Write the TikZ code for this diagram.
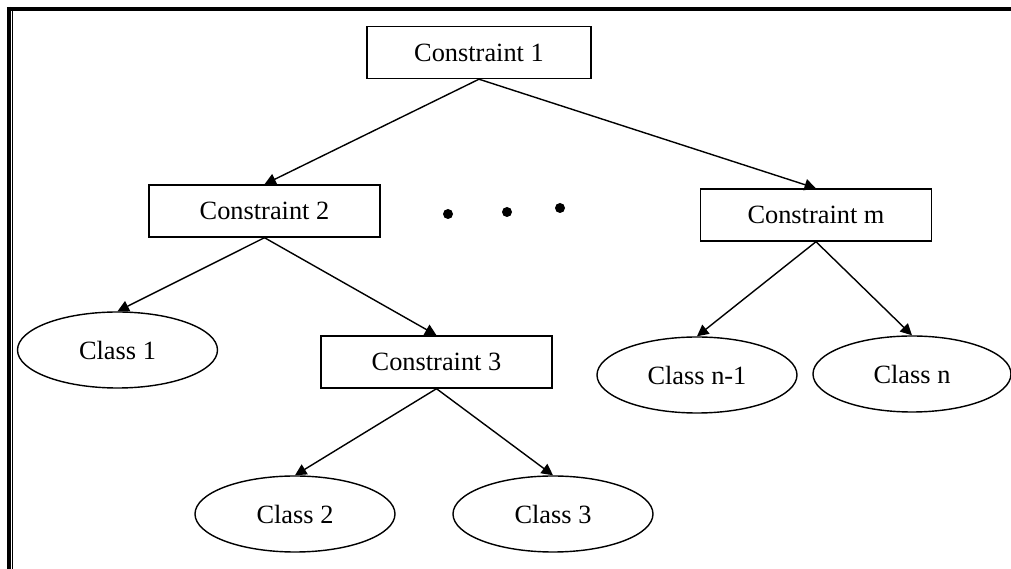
\documentclass[tikz,border=0pt]{standalone}
\usepackage{fontspec}
\setmainfont{Liberation Serif}
\usepackage{tikz}
\usetikzlibrary{shapes.geometric, arrows.meta}
\tikzstyle{arrow} = [line width=0.8pt,->,>={Stealth[length=6.5pt,width=6.5pt,inset=0pt]}]
\tikzstyle{constraintbox} = [rectangle, draw, line width=0.8pt, minimum width=4.62cm, minimum height=1.04cm, inner sep=0pt, font=\fontsize{15}{18}\selectfont]
\tikzstyle{classnode} = [ellipse, draw, line width=0.8pt, minimum width=4cm, minimum height=1.52cm, inner sep=0pt, font=\fontsize{15}{18}\selectfont]

\begin{document}
\begin{tikzpicture}
    \useasboundingbox (0,0) rectangle (20.22,-11.38);
    % Frame
    \draw[line width=2.3pt] (0.14,-0.18) -- (20.22,-0.18);
    \draw[line width=2.3pt] (0.18,-0.14) -- (0.18,-11.38);
    \draw[line width=0.5pt] (0.25,-0.22) -- (0.25,-11.38);

    % Nodes
    \node[constraintbox, minimum width=4.48cm] (c1) at (9.58,-1.05) {Constraint 1};
    \node[constraintbox] (c2) at (5.29,-4.22) {Constraint 2};
    \node[constraintbox] (cm) at (16.32,-4.30) {Constraint m};
    \node[constraintbox] (c3) at (8.73,-7.24) {Constraint 3};
    \node[classnode] (k1) at (2.35,-7.00) {Class 1};
    \node[classnode] (kn1) at (13.94,-7.50) {Class n-1};
    \node[classnode, minimum width=3.96cm] (kn) at (18.24,-7.48) {Class n};
    \node[classnode] (k2) at (5.90,-10.28) {Class 2};
    \node[classnode] (k3) at (11.06,-10.28) {Class 3};

    % Dots
    \fill (8.96,-4.28) circle (0.1);
    \fill (10.14,-4.24) circle (0.1);
    \fill (11.20,-4.16) circle (0.1);

    % Edges
    \draw[arrow] (c1.south) -- (c2.north);
    \draw[arrow] (c1.south) -- (cm.north);
    \draw[arrow] (c2.south) -- (k1.north);
    \draw[arrow] (c2.south) -- (c3.north);
    \draw[arrow] (cm.south) -- (kn1.north);
    \draw[arrow] (cm.south) -- (kn.north);
    \draw[arrow] (c3.south) -- (k2.north);
    \draw[arrow] (c3.south) -- (k3.north);
\end{tikzpicture}
\end{document}
